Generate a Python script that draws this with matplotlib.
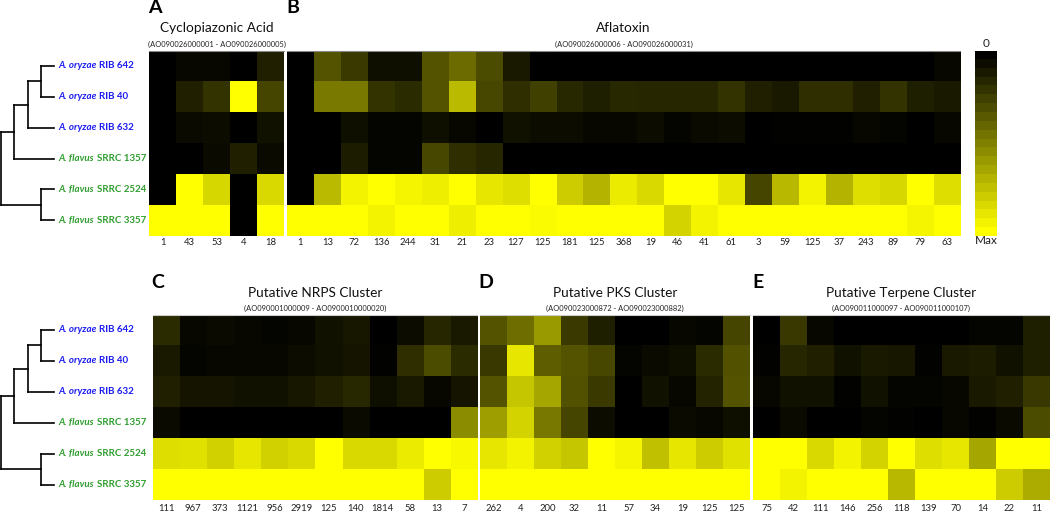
import matplotlib
matplotlib.use("Agg")
import numpy as np
import matplotlib.pyplot as plt
from matplotlib.colors import LinearSegmentedColormap

plt.rcParams['font.family'] = ['Lato', 'DejaVu Sans']

species = ["A. oryzae", "A. oryzae", "A. oryzae", "A. flavus", "A. flavus", "A. flavus"]
strains = ["RIB 642", "RIB 40", "RIB 632", "SRRC 1357", "SRRC 2524", "SRRC 3357"]

labels_a = [1, 43, 53, 4, 18]
labels_b = [1, 13, 72, 136, 244, 31, 21, 23, 127, 125, 181, 125, 368, 19, 46, 41, 61, 3, 59, 125, 37, 243, 89, 79, 63]
labels_c = [111, 967, 373, 1121, 956, 2919, 125, 140, 1814, 58, 13, 7]
labels_d = [262, 4, 200, 32, 11, 57, 34, 19, 125, 125]
labels_e = [75, 42, 111, 146, 256, 118, 139, 70, 14, 22, 11]

vals_a = [
    [0, .03, .03, 0, .13],
    [0, .13, .2, 1, .27],
    [0, .04, .05, 0, .07],
    [0, 0, .04, .13, .04],
    [0, 1, .84, 0, .85],
    [1, 1, 1, 0, 1],
]
vals_b = [
    [0, .33, .23, .06, .06, .33, .42, .3, .1, 0, 0, 0, 0, 0, 0, 0, 0, 0, 0, 0, 0, 0, 0, 0, .03],
    [0, .48, .48, .2, .17, .33, .73, .28, .18, .25, .16, .12, .16, .15, .15, .15, .2, .13, .1, .18, .18, .13, .2, .12, .1],
    [0, 0, .06, .02, .02, .06, .03, 0, .07, .05, .05, .03, .03, .05, .02, .04, .05, 0, .01, .01, .01, .03, .02, 0, .03],
    [0, 0, .11, .02, .02, .28, .18, .15, 0, 0, 0, 0, 0, 0, 0, 0, 0, 0, 0, 0, 0, 0, 0, 0, 0],
    [0, .73, .95, 1, .96, .93, 1, .9, .87, 1, .8, .7, .92, .85, 1, 1, .9, .27, .72, .95, .7, .87, .84, 1, .87],
    [1, 1, 1, .95, 1, 1, .93, 1, 1, .98, 1, 1, 1, 1, .83, .95, 1, 1, 1, 1, 1, 1, 1, .96, 1],
]
vals_c = [
    [.17, .03, .04, .03, .02, .03, .07, .09, 0, .05, .15, .1],
    [.1, .02, .03, .03, .03, .05, .07, .08, .01, .18, .3, .17],
    [.13, .08, .08, .07, .07, .09, .13, .16, .06, .1, .03, .08],
    [.04, 0, 0, 0, 0, 0, 0, .04, 0, 0, 0, .55],
    [.87, .88, .82, .9, .82, .85, 1, .85, .85, .92, 1, .97],
    [1, 1, 1, 1, 1, 1, 1, 1, 1, 1, .8, 1],
]
vals_d = [
    [.33, .43, .6, .23, .12, 0, 0, .03, .02, .27],
    [.22, .9, .37, .33, .28, .02, .04, .06, .17, .32],
    [.33, .77, .65, .32, .23, 0, .07, .03, .14, .33],
    [.62, .83, .47, .27, .05, 0, 0, .04, .03, .06],
    [.9, .95, .82, .77, 1, .96, .75, .9, .8, .88],
    [1, 1, 1, 1, 1, 1, 1, 1, 1, 1],
]
vals_e = [
    [0, .22, .03, 0, 0, 0, 0, 0, .02, .02, .12],
    [.01, .15, .13, .07, .1, .09, .01, .1, .11, .07, .12],
    [.03, .07, .07, .01, .07, .02, .02, .03, .1, .13, .22],
    [0, .04, 0, 0, .02, .01, 0, .03, .01, .04, .3],
    [1, 1, .85, .95, .83, 1, .87, .9, .65, 1, 1],
    [1, .95, 1, 1, 1, .72, 1, 1, 1, .8, .67],
]

W, H = 1050, 512
cmap = LinearSegmentedColormap.from_list("by", ["black", "yellow"])

fig = plt.figure(figsize=(10.5, 5.12), dpi=100)

# overlay in pixels for tree and text
bg = fig.add_axes([0, 0, 1, 1])
bg.set_xlim(0, W)
bg.set_ylim(H, 0)
bg.axis("off")


def heat(vals, labels, x0, x1, y0, y1, edge, pad):
    ax = fig.add_axes([x0 / W, 1 - y1 / H, (x1 - x0) / W, (y1 - y0) / H])
    ax.imshow(vals, cmap=cmap, vmin=0, vmax=1, aspect="auto", interpolation="nearest")
    ax.set_xticks(range(len(labels)))
    ax.set_xticklabels(labels, fontsize=6.8, color="#222222")
    ax.set_yticks([])
    ax.tick_params(axis="x", length=0, pad=pad)
    for s in ax.spines:
        ax.spines[s].set_visible(False)
    ax.spines["top"].set_visible(True)
    ax.spines["top"].set_color(edge)
    ax.spines["top"].set_linewidth(0.8)
    return ax


def tree(y0, y1):
    rh = (y1 - y0) / 6
    ys = [y0 + rh * (i + .5) for i in range(6)]
    lines = []
    # clade joins, inner to outer
    a = (ys[0] + ys[1]) / 2
    b = (a + ys[2]) / 2
    c = (b + ys[3]) / 2
    d = (ys[4] + ys[5]) / 2
    tips = [(41, ys[0]), (41, ys[1]), (28, ys[2]), (14, ys[3]), (41, ys[4]), (41, ys[5])]
    for tx, ty in tips:
        bg.plot([tx, 54.3], [ty, ty], color="black", lw=1.2, solid_capstyle="projecting")
    lines.append(([41, 41], [ys[0], ys[1]]))
    lines.append(([28, 41], [a, a]))
    lines.append(([28, 28], [a, ys[2]]))
    lines.append(([14, 28], [b, b]))
    lines.append(([14, 14], [b, ys[3]]))
    lines.append(([1, 14], [c, c]))
    lines.append(([41, 41], [ys[4], ys[5]]))
    lines.append(([1, 41], [d, d]))
    lines.append(([1, 1], [c, d]))
    for lx, ly in lines:
        bg.plot(lx, ly, color="black", lw=1.2, solid_capstyle="projecting")
    for i in range(6):
        col = "#1c1cf0" if i < 3 else "#2f9e2f"
        t = bg.text(58.3, ys[i], species[i], fontsize=7, style="italic", fontweight="bold",
                    color=col, va="center", ha="left")
        bg.annotate(strains[i], xy=(1, 0.5), xycoords=t, xytext=(2, 0), textcoords="offset points",
                    fontsize=7, fontweight="bold", color=col, va="center", ha="left")


heat(vals_a, labels_a, 149.3, 284, 50.5, 235.7, "#888888", 1.5)
heat(vals_b, labels_b, 287, 960.3, 50.5, 235.7, "#888888", 1.5)
heat(vals_c, labels_c, 152.7, 477.3, 314.5, 500, "#cccccc", 3)
heat(vals_d, labels_d, 480, 750, 314.5, 500, "#cccccc", 3)
heat(vals_e, labels_e, 753, 1050, 314.5, 500, "#cccccc", 3)

tree(50.5, 235.7)
tree(314.5, 500)

# colour key
key = fig.add_axes([975 / W, 1 - 235.7 / H, 22 / W, 185.2 / H])
key.imshow(np.arange(21).reshape(-1, 1), cmap=cmap, aspect="auto", interpolation="nearest")
key.axis("off")
bg.text(986, 43.3, "0", fontsize=8.5, ha="center", va="center", color="#222222")
bg.text(986, 240.7, "Max", fontsize=8.5, ha="center", va="center", color="#222222")

titles = [
    (216.5, 28.5, "Cyclopiazonic Acid", "(AO090026000001 - AO090026000005)", 44.3),
    (623.5, 28.5, "Aflatoxin", "(AO090026000006 - AO090026000031)", 44.3),
    (315, 292.7, "Putative NRPS Cluster", "(AO090001000009 - AO0900010000020)", 308.3),
    (615, 292.7, "Putative PKS Cluster", "(AO090023000872 - AO090023000882)", 308.3),
    (901, 292.7, "Putative Terpene Cluster", "(AO090011000097 - AO090011000107)", 308.3),
]
for x, y, t, sub, suby in titles:
    bg.text(x, y, t, fontsize=9.8, ha="center", va="center", color="#111111")
    bg.text(x, suby, sub, fontsize=5.45, ha="center", va="center", color="#222222")

panels = [("A", 155, 7.5), ("B", 293, 7.5), ("C", 158, 282), ("D", 486, 282), ("E", 757.6, 282)]
for letter, x, y in panels:
    bg.text(x, y, letter, fontsize=14, fontweight="bold", ha="center", va="center", color="black")

fig.savefig("out.png", dpi=100)
